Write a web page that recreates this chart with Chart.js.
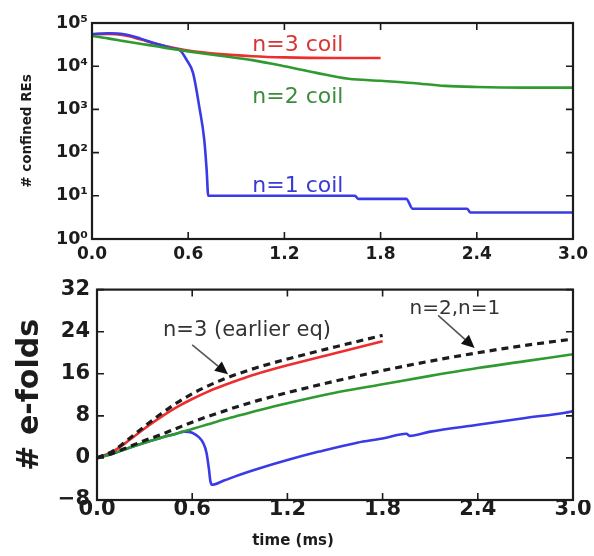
<!DOCTYPE html>
<html>
<head>
<meta charset="utf-8">
<script src="https://cdn.jsdelivr.net/npm/chart.js@4.4.0/dist/chart.umd.min.js"></script>
<style>
  body { margin: 0; background: #fff; }
  canvas { position: absolute; left: 0; }
  #rePlot { top: 0; }
  #efoldPlot { top: 270px; }
</style>
</head>
<body>
<canvas id="rePlot" width="594" height="270"></canvas>
<canvas id="efoldPlot" width="594" height="286"></canvas>
<script>
// --- confined runaway electrons vs time, per coil configuration ---
const timeTicks = [0, 0.6, 1.2, 1.8, 2.4, 3.0];
const reTicks = [1, 10, 100, 1000, 10000, 100000];
const sup = ['\u2070', '\u00b9', '\u00b2', '\u00b3', '\u2074', '\u2075'];

const tN3 = [0, 0.1, 0.2, 0.3, 0.4, 0.5, 0.6, 0.8, 1.0, 1.2, 1.5, 1.8];
const reN3 = [5.5e4, 5.6e4, 5.2e4, 4.2e4, 3.3e4, 2.7e4, 2.3e4, 1.9e4, 1.7e4, 1.6e4, 1.55e4, 1.55e4];

const tN2 = [0, 0.1, 0.2, 0.3, 0.4, 0.5, 0.6, 0.8, 1.0, 1.2, 1.4, 1.6, 1.8, 2.0, 2.2, 2.4, 2.7, 3.0];
const reN2 = [5e4, 4.4e4, 3.8e4, 3.3e4, 2.9e4, 2.5e4, 2.2e4, 1.75e4, 1.38e4, 1.0e4, 7e3, 5.1e3, 4.6e3, 4.1e3, 3.5e3, 3.3e3, 3.2e3, 3.2e3];

const tN1 = [0, 0.1, 0.2, 0.3, 0.4, 0.5, 0.55, 0.59, 0.63, 0.67, 0.7, 0.715, 0.725, 1.64, 1.66, 1.96, 2.0, 2.34, 2.36, 3.0];
const reN1 = [5.5e4, 5.8e4, 5.5e4, 4.4e4, 3.3e4, 2.6e4, 2.3e4, 1.4e4, 7e3, 1.1e3, 200, 40, 10, 10, 8.5, 8.5, 5, 5, 4.1, 4.1];

// --- e-folds vs time ---
const efoldTicks = [-8, 0, 8, 16, 24, 32];
const tEf = [0, 0.1, 0.2, 0.3, 0.4, 0.5, 0.6, 0.7, 0.8, 0.9, 1.0, 1.2, 1.5, 1.8, 2.1, 2.4, 2.7, 3.0];
const efN3 = [0, 1.2, 3.3, 5.6, 7.7, 9.6, 11.2, 12.6, 13.8, 14.9, 15.9, 17.6, 19.9, 22.2];
const efN3Early = [0, 1.3, 3.6, 6.0, 8.3, 10.4, 12.2, 13.7, 15.0, 16.1, 17.1, 18.8, 21.1, 23.3];
const efN2 = [0, 0.8, 1.9, 2.9, 3.8, 4.6, 5.5, 6.4, 7.3, 8.1, 8.9, 10.4, 12.4, 14.0, 15.6, 17.1, 18.4, 19.7];
const efN2N1 = [0, 0.9, 2.1, 3.3, 4.4, 5.6, 6.8, 7.9, 8.9, 9.9, 10.8, 12.4, 14.6, 16.6, 18.4, 20.0, 21.4, 22.6];
const tEfN1 = [0, 0.1, 0.2, 0.3, 0.4, 0.5, 0.55, 0.6, 0.64, 0.67, 0.69, 0.705, 0.715, 0.725, 0.8, 0.9, 1.0, 1.2, 1.4, 1.64, 1.8, 1.95, 1.97, 2.1, 2.4, 2.7, 2.95, 3.0];
const efN1 = [0, 0.8, 1.9, 2.9, 3.8, 4.6, 5.0, 4.8, 4.0, 2.8, 1.0, -2.0, -4.5, -5.1, -4.3, -3.2, -2.2, -0.4, 1.2, 2.9, 3.7, 4.6, 4.2, 5.0, 6.3, 7.6, 8.6, 8.9];

const RED = '#ee2e2e', GREEN = '#2f9a2f', BLUE = '#3a3ae6', INK = '#1c1c1c';

const pts = (xs, ys) => ys.map((y, i) => ({ x: xs[i], y }));
const tickFont = size => ({ family: 'DejaVu Sans', weight: 'bold', size });

function line(xs, ys, color, dashed) {
  return {
    data: pts(xs, ys),
    borderColor: color,
    borderWidth: dashed ? 3.2 : 2.6,
    borderDash: dashed ? [7, 5] : [],
    pointRadius: 0,
    cubicInterpolationMode: 'monotone',
    fill: false
  };
}

// inward ticks on all four sides plus the box
const frame = {
  id: 'frame',
  afterDatasetsDraw(chart) {
    const { ctx, chartArea: a, scales: { x, y } } = chart;
    ctx.save();
    ctx.strokeStyle = INK;
    ctx.lineWidth = 1.6;
    ctx.beginPath();
    x.ticks.forEach(t => {
      const px = x.getPixelForValue(t.value);
      ctx.moveTo(px, a.bottom); ctx.lineTo(px, a.bottom - 7);
      ctx.moveTo(px, a.top); ctx.lineTo(px, a.top + 7);
    });
    y.ticks.forEach(t => {
      const py = y.getPixelForValue(t.value);
      ctx.moveTo(a.left, py); ctx.lineTo(a.left + 7, py);
      ctx.moveTo(a.right, py); ctx.lineTo(a.right - 7, py);
    });
    ctx.stroke();
    ctx.lineWidth = 2.2;
    ctx.strokeRect(a.left, a.top, a.width, a.height);
    ctx.restore();
  }
};

function notes(items, arrows) {
  return {
    id: 'notes',
    afterDraw(chart) {
      const { ctx, scales: { x, y } } = chart;
      ctx.save();
      items.forEach(n => {
        ctx.font = n.font;
        ctx.fillStyle = n.color;
        ctx.textBaseline = 'middle';
        ctx.textAlign = n.align || 'left';
        const px = n.px !== undefined ? n.px : x.getPixelForValue(n.x);
        const py = n.py !== undefined ? n.py : y.getPixelForValue(n.y);
        ctx.fillText(n.text, px, py);
      });
      arrows.forEach(ar => {
        const x0 = x.getPixelForValue(ar.from[0]), y0 = y.getPixelForValue(ar.from[1]);
        const x1 = x.getPixelForValue(ar.to[0]), y1 = y.getPixelForValue(ar.to[1]);
        const ang = Math.atan2(y1 - y0, x1 - x0);
        const len = 13, half = 6;
        const bx = x1 - len * Math.cos(ang), by = y1 - len * Math.sin(ang);
        ctx.strokeStyle = '#555';
        ctx.lineWidth = 1.6;
        ctx.beginPath(); ctx.moveTo(x0, y0); ctx.lineTo(bx, by); ctx.stroke();
        ctx.fillStyle = '#111';
        ctx.beginPath();
        ctx.moveTo(x1, y1);
        ctx.lineTo(bx + half * Math.sin(ang), by - half * Math.cos(ang));
        ctx.lineTo(bx - half * Math.sin(ang), by + half * Math.cos(ang));
        ctx.closePath(); ctx.fill();
      });
      ctx.restore();
    }
  };
}

const common = {
  responsive: false,
  animation: false,
  plugins: { legend: { display: false }, tooltip: { enabled: false } },
  elements: { line: { tension: 0 } }
};

new Chart(document.getElementById('rePlot'), {
  type: 'line',
  data: {
    datasets: [
      line(tN2, reN2, GREEN),
      line(tN1, reN1, BLUE),
      line(tN3, reN3, RED)
    ]
  },
  options: {
    ...common,
    layout: { padding: { top: 23, right: 21, left: 0, bottom: 0 } },
    scales: {
      x: {
        type: 'linear', min: 0, max: 3,
        afterBuildTicks: s => { s.ticks = timeTicks.map(v => ({ value: v })); },
        afterFit: s => { s.height = 31; },
        grid: { display: false, drawTicks: false },
        border: { display: false },
        ticks: { color: INK, font: tickFont(17), padding: 5, maxRotation: 0, callback: v => v.toFixed(1) }
      },
      y: {
        type: 'logarithmic', min: 1, max: 1e5,
        afterBuildTicks: s => { s.ticks = reTicks.map(v => ({ value: v })); },
        afterFit: s => { s.width = 92; },
        grid: { display: false, drawTicks: false },
        border: { display: false },
        ticks: { color: INK, font: tickFont(17.5), padding: 4, callback: v => '10' + sup[Math.round(Math.log10(v))] },
        title: { display: true, text: '# confined REs', color: INK, font: tickFont(13.5), padding: { top: 19 } }
      }
    }
  },
  plugins: [frame, notes([
    { text: 'n=3 coil', x: 1.0, y: 3.0e4, color: '#d83434', font: '22px "DejaVu Sans"' },
    { text: 'n=2 coil', x: 1.0, y: 1.94e3, color: '#3b8c3b', font: '22px "DejaVu Sans"' },
    { text: 'n=1 coil', x: 1.0, y: 17, color: '#3a3ad4', font: '22px "DejaVu Sans"' }
  ], [])]
});

new Chart(document.getElementById('efoldPlot'), {
  type: 'line',
  data: {
    datasets: [
      line(tEf, efN2N1, INK, true),
      line(tEf.slice(0, efN3Early.length), efN3Early, INK, true),
      line(tEf, efN2, GREEN),
      line(tEfN1, efN1, BLUE),
      line(tEf.slice(0, efN3.length), efN3, RED)
    ]
  },
  options: {
    ...common,
    layout: { padding: { top: 15, right: 21, left: 0, bottom: 0 } },
    scales: {
      x: {
        type: 'linear', min: 0, max: 3,
        afterBuildTicks: s => { s.ticks = timeTicks.map(v => ({ value: v })); },
        afterFit: s => { s.height = 56; },
        grid: { display: false, drawTicks: false },
        border: { display: false },
        ticks: { color: INK, font: tickFont(21), padding: -3, maxRotation: 0, callback: v => v.toFixed(1) }
      },
      y: {
        min: -8, max: 32,
        afterBuildTicks: s => { s.ticks = efoldTicks.map(v => ({ value: v })); },
        afterFit: s => { s.width = 97; },
        grid: { display: false, drawTicks: false },
        border: { display: false },
        ticks: { color: INK, font: tickFont(21), padding: 7, callback: v => v < 0 ? '\u2212' + Math.abs(v) : String(v) },
        title: { display: true, text: '# e-folds', color: INK, font: tickFont(30), padding: { top: 12 } }
      }
    }
  },
  plugins: [frame, notes([
    { text: 'n=3 (earlier eq)', x: 0.416, y: 24.3, color: '#333', font: '21px "DejaVu Sans"' },
    { text: 'n=2,n=1', x: 1.97, y: 28.4, color: '#333', font: '20px "DejaVu Sans"' },
    { text: 'time (ms)', px: 293, py: 271, color: INK, font: 'bold 15px "DejaVu Sans"', align: 'center' }
  ], [
    { from: [0.6, 21.5], to: [0.826, 15.9] },
    { from: [2.15, 27.1], to: [2.38, 20.9] }
  ])]
});
</script>
</body>
</html>
